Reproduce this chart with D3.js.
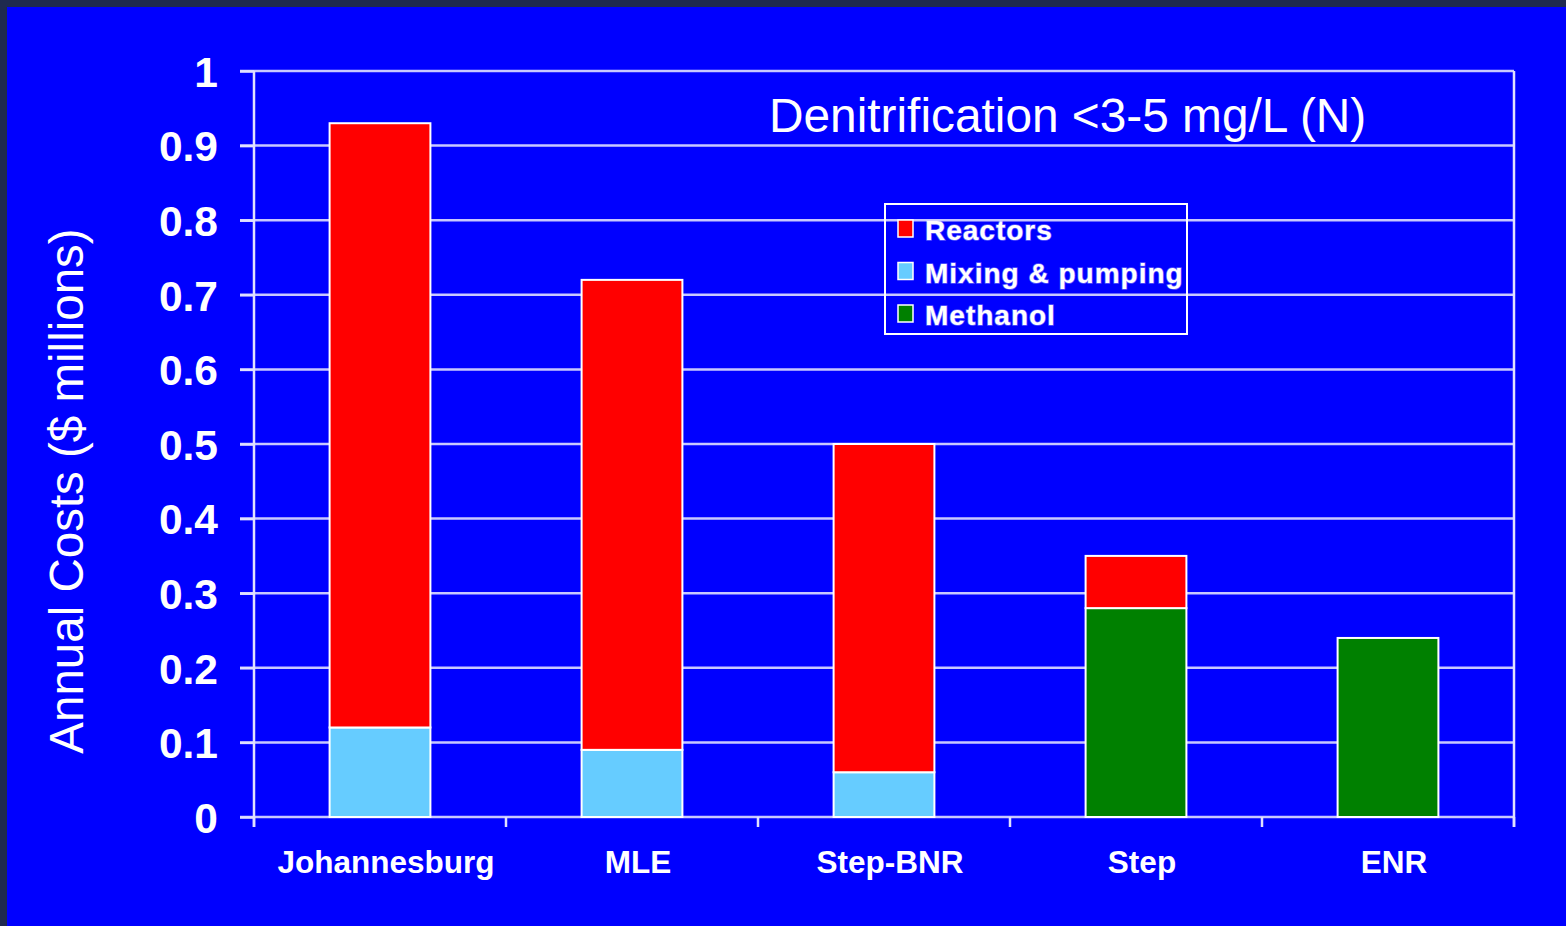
<!DOCTYPE html>
<html>
<head>
<meta charset="utf-8">
<script src="https://cdn.jsdelivr.net/npm/d3@7"></script>
<style>
  html, body { margin: 0; padding: 0; background: #1f2a4f; }
  svg { display: block; font-family: "Liberation Sans", Arial, sans-serif; }
  .grid line { stroke: #c8c8ff; stroke-width: 2.5; }
  .y-axis text { font-size: 42.5px; font-weight: bold; fill: #fff; }
  .y-axis line, .y-axis path { stroke: #e0e0ff; stroke-width: 2.5; }
  .x-axis line, .x-axis path { stroke: #e0e0ff; stroke-width: 2.5; }
  .x-label { font-size: 31.5px; font-weight: bold; fill: #fff; }
  .legend-text { font-size: 28px; font-weight: bold; fill: #fff; letter-spacing: 1px;
                 stroke: rgba(255,255,255,0.35); stroke-width: 1.5px; paint-order: stroke; }
</style>
</head>
<body>
<svg id="chart"></svg>
<script>
const categories = ["Johannesburg", "MLE", "Step-BNR", "Step", "ENR"];
const methanol = [0, 0, 0, 0.28, 0.24];
const mixing = [0.12, 0.09, 0.06, 0, 0];
const reactors = [0.81, 0.63, 0.44, 0.07, 0];
const yTicks = [0, 0.1, 0.2, 0.3, 0.4, 0.5, 0.6, 0.7, 0.8, 0.9, 1];
const legendItems = ["Reactors", "Mixing & pumping", "Methanol"];

const W = 1566, H = 926;
const margin = {top: 71, right: 52, bottom: 109, left: 254},
    width = W - margin.left - margin.right,
    height = H - margin.top - margin.bottom;

const color = d3.scaleOrdinal()
    .domain(["reactors", "mixing", "methanol"])
    .range(["#ff0000", "#66ccff", "#008000"]);

const root = d3.select("#chart")
    .attr("width", W)
    .attr("height", H);

// blue slide area with dark strip top/left
root.append("rect")
    .attr("x", 7).attr("y", 7)
    .attr("width", W - 7).attr("height", H - 7)
    .attr("fill", "#0000ff");

const svg = root.append("g")
    .attr("transform", "translate(" + margin.left + "," + margin.top + ")");

const data = categories.map(function(c, i) {
    return {cat: c, methanol: methanol[i], mixing: mixing[i], reactors: reactors[i]};
});

const xScale = d3.scaleBand()
    .domain(categories)
    .range([0, width])
    .paddingInner(0.6)
    .paddingOuter(0.3);

const yScale = d3.scaleLinear()
    .domain([0, 1])
    .range([height, 0]);

// gridlines
svg.append("g")
    .attr("class", "grid")
    .selectAll("line")
    .data(yTicks)
    .enter()
    .append("line")
    .attr("x1", -14)
    .attr("x2", width)
    .attr("y1", function(d) { return yScale(d); })
    .attr("y2", function(d) { return yScale(d); });

// right frame line
svg.append("line")
    .attr("x1", width).attr("x2", width)
    .attr("y1", 0).attr("y2", height + 10)
    .attr("stroke", "#e0e0ff")
    .attr("stroke-width", 2.5);

// x axis with ticks at band boundaries
svg.append("g")
    .attr("class", "x-axis")
    .selectAll("line")
    .data(d3.range(categories.length + 1))
    .enter()
    .append("line")
    .attr("x1", function(i) { return i * xScale.step(); })
    .attr("x2", function(i) { return i * xScale.step(); })
    .attr("y1", height)
    .attr("y2", height + 10);

// y axis
svg.append("g")
    .attr("class", "y-axis")
    .call(d3.axisLeft(yScale)
        .tickValues(yTicks)
        .tickSize(14)
        .tickPadding(22)
        .tickFormat(function(d) { return d3.format("")(d); }))
    .call(function(g) {
        g.select(".domain").attr("d", "M0,0V" + (height + 10));
        g.selectAll(".tick text").attr("dy", "0.36em");
    });

// stacked bars
const layers = d3.stack().keys(["methanol", "mixing", "reactors"])(data);

svg.selectAll("g.layer")
    .data(layers)
    .enter()
    .append("g")
    .attr("class", "layer")
    .attr("fill", function(d) { return color(d.key); })
    .selectAll("rect")
    .data(function(d) { return d.filter(function(s) { return s[1] - s[0] > 0; }); })
    .enter()
    .append("rect")
    .attr("x", function(d) { return xScale(d.data.cat); })
    .attr("width", xScale.bandwidth())
    .attr("y", function(d) { return yScale(d[1]); })
    .attr("height", function(d) { return yScale(d[0]) - yScale(d[1]); })
    .attr("stroke", "#ffffff")
    .attr("stroke-width", 2);

// category labels
svg.selectAll(".x-label")
    .data(categories)
    .enter()
    .append("text")
    .attr("class", "x-label")
    .attr("x", function(d) { return xScale(d) + xScale.bandwidth() / 2 + 6; })
    .attr("y", height + 56)
    .attr("text-anchor", "middle")
    .text(function(d) { return d; });

// y axis label
root.append("text")
    .attr("transform", "translate(83," + 491 + ") rotate(-90)")
    .attr("text-anchor", "middle")
    .attr("fill", "#fff")
    .style("font-size", "47.5px")
    .text("Annual Costs ($ millions)");

// title
root.append("text")
    .attr("x", 769)
    .attr("y", 132)
    .attr("fill", "#fff")
    .style("font-size", "47.8px")
    .text("Denitrification <3-5 mg/L (N)");

// legend
const legend = root.append("g")
    .attr("transform", "translate(885,204)");

legend.append("rect")
    .attr("width", 302)
    .attr("height", 130)
    .attr("fill", "none")
    .attr("stroke", "#ffffff")
    .attr("stroke-width", 2);

const legendKeys = ["reactors", "mixing", "methanol"];
const rows = legend.selectAll(".legend-row")
    .data(legendItems)
    .enter()
    .append("g")
    .attr("class", "legend-row")
    .attr("transform", function(d, i) { return "translate(0," + (36 + i * 42.5) + ")"; });

rows.append("rect")
    .attr("x", 13)
    .attr("y", -20)
    .attr("width", 15)
    .attr("height", 17)
    .attr("fill", function(d, i) { return color(legendKeys[i]); })
    .attr("stroke", "#ffffff")
    .attr("stroke-width", 1.5);

rows.append("text")
    .attr("class", "legend-text")
    .attr("x", 40)
    .attr("y", 0)
    .text(function(d) { return d; });
</script>
</body>
</html>
